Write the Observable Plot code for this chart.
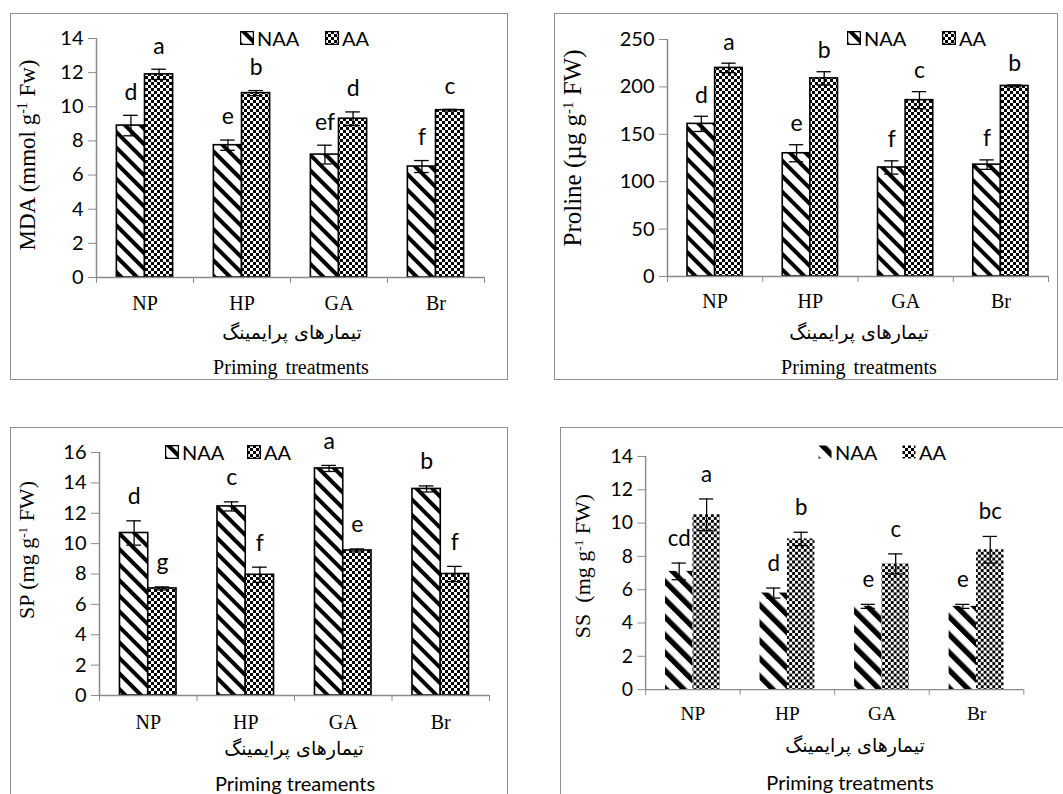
<!DOCTYPE html>
<html><head><meta charset="utf-8">
<script src="https://cdn.jsdelivr.net/npm/d3@7"></script>
<script src="https://cdn.jsdelivr.net/npm/@observablehq/plot@0.6"></script>
<style>
body{margin:0;background:#fff;width:1063px;height:794px;overflow:hidden;position:relative;font-family:Lato,"Open Sans",sans-serif;color:#000}
.frame{position:absolute;border:1px solid #8e8e8e;box-sizing:border-box}
.plot{position:absolute}
.plot svg{overflow:visible}
.ylab{position:absolute;font-family:"Liberation Serif","Times New Roman",serif;white-space:nowrap;transform:translate(-50%,-50%) rotate(-90deg);}
.ylab sup{font-size:0.6em;vertical-align:0.55em;line-height:0}
.xlab{position:absolute;white-space:nowrap;transform:translate(-50%,-50%)}
.fa{font-family:"DejaVu Sans",sans-serif;font-size:19px}
.en{font-family:"Liberation Serif",serif;font-size:20px;word-spacing:3px}
.ensans{font-family:Lato,sans-serif;font-size:20px}
.leg{position:absolute;display:flex;align-items:center;font-size:20px;transform:translateY(-50%)}
.leg svg{display:block}
</style></head><body>
<svg width="0" height="0" style="position:absolute">
<defs>
<pattern id="stripe" width="11" height="11" patternUnits="userSpaceOnUse" patternTransform="rotate(-45)">
<rect width="11" height="11" fill="#fff"/><rect width="4" height="11" fill="#000"/></pattern>
<pattern id="stripe2" width="13" height="13" patternUnits="userSpaceOnUse" patternTransform="rotate(-45)">
<rect width="13" height="13" fill="#fff"/><rect width="5.5" height="13" fill="#000"/></pattern>
<pattern id="check" width="6" height="6" patternUnits="userSpaceOnUse">
<rect width="6" height="6" fill="#fff"/><rect width="3" height="3" fill="#000"/><rect x="3" y="3" width="3" height="3" fill="#000"/></pattern>
</defs></svg>
<script>
// ---- data ----
const categories = ["NP", "HP", "GA", "Br"];
const seriesNames = ["NAA", "AA"];

const mdaNAA = [8.9, 7.75, 7.2, 6.5];
const mdaNAAerr = [0.6, 0.3, 0.55, 0.35];
const mdaAA = [11.9, 10.8, 9.3, 9.8];
const mdaAAerr = [0.3, 0.15, 0.4, 0.05];
const mdaNAAletters = ["d", "e", "ef", "f"];
const mdaAAletters = ["a", "b", "d", "c"];

const proNAA = [161, 130, 115, 118];
const proNAAerr = [8, 9, 7, 5];
const proAA = [220, 209, 186, 201];
const proAAerr = [5, 7, 9, 1];
const proNAAletters = ["d", "e", "f", "f"];
const proAAletters = ["a", "b", "c", "b"];

const spNAA = [10.7, 12.45, 14.95, 13.6];
const spNAAerr = [0.8, 0.3, 0.2, 0.2];
const spAA = [7.05, 7.95, 9.55, 8.0];
const spAAerr = [0.1, 0.5, 0.1, 0.5];
const spNAAletters = ["d", "c", "a", "b"];
const spAAletters = ["g", "f", "e", "f"];

const ssNAA = [7.1, 5.8, 5.0, 5.0];
const ssNAAerr = [0.5, 0.3, 0.12, 0.12];
const ssAA = [10.5, 9.05, 7.55, 8.4];
const ssAAerr = [0.95, 0.4, 0.6, 0.8];
const ssNAAletters = ["cd", "d", "e", "e"];
const ssAAletters = ["a", "b", "c", "bc"];

const yTitles = ["MDA (mmol g<sup>-1</sup> Fw)", "Proline (µg g<sup>-1</sup> FW)", "SP (mg g<sup>-1</sup> FW)", "SS&nbsp; (mg g<sup>-1</sup> FW)"];
const xTitleFa = "تیمارهای پرایمینگ";
const xTitlesEn = ["Priming treatments", "Priming treatments", "Priming treaments", "Priming treatments"];

// ---- layout ----
const panels = [
  {naa: mdaNAA, naaErr: mdaNAAerr, aa: mdaAA, aaErr: mdaAAerr, naaLet: mdaNAAletters, aaLet: mdaAAletters,
   ymax: 14, ystep: 2, frame: [10, 13, 498, 367], m: [25, 24, 103, 86], outline: true, stripe: "stripe",
   ytitle: [28, 155, 23], xfa: [292, 332], xen: [291, 367, "en"], legend: [240, 325, 38], dyLet: 23, catPad: 18},
  {naa: proNAA, naaErr: proNAAerr, aa: proAA, aaErr: proAAerr, naaLet: proNAAletters, aaLet: proAAletters,
   ymax: 250, ystep: 50, frame: [554, 13, 504, 367], m: [26, 10, 104, 113], outline: true, stripe: "stripe",
   ytitle: [573, 148, 25], xfa: [859, 332], xen: [859, 367, "en"], legend: [847, 942, 38], dyLet: 21, catPad: 17},
  {naa: spNAA, naaErr: spNAAerr, aa: spAA, aaErr: spAAerr, naaLet: spNAAletters, aaLet: spAAletters,
   ymax: 16, ystep: 2, frame: [10, 427, 498, 380], m: [25, 19, 112, 89], outline: true, stripe: "stripe",
   ytitle: [27, 550, 22], xfa: [294, 748], xen: [295, 783, "ensans"], legend: [165, 247, 452], dyLet: 24, catPad: 19},
  {naa: ssNAA, naaErr: ssNAAerr, aa: ssAA, aaErr: ssAAerr, naaLet: ssNAAletters, aaLet: ssAAletters,
   ymax: 14, ystep: 2, frame: [560, 427, 520, 380], m: [30, 41, 109, 88], outline: false, stripe: "stripe2",
   ytitle: [583, 566, 22], xfa: [855, 745], xen: [850, 782, "ensans"], legend: [818, 902, 452], dyLet: 25, catPad: 17}
];

const barFrac = 0.29;
const capHalf = 0.075;

function el(tag, cls, html, style) {
  const e = document.createElement(tag);
  if (cls) e.className = cls;
  if (html != null) e.innerHTML = html;
  Object.assign(e.style, style || {});
  document.body.appendChild(e);
  return e;
}

function swatch(fill, outline) {
  return `<svg width="14" height="14"><rect x="0.5" y="0.5" width="13" height="13" fill="${fill}" stroke="${outline ? "#000" : "none"}" stroke-width="1.5"/></svg>`;
}

panels.forEach((p, k) => {
  const [fx, fy, fw, fh] = p.frame;
  const [mt, mr, mb, ml] = p.m;
  el("div", "frame", null, {left: fx + "px", top: fy + "px", width: fw + "px", height: fh + "px"});

  const rows = [];
  categories.forEach((c, i) => {
    rows.push({cat: c, i, s: "NAA", v: p.naa[i], e: p.naaErr[i], l: p.naaLet[i]});
    rows.push({cat: c, i, s: "AA", v: p.aa[i], e: p.aaErr[i], l: p.aaLet[i]});
  });
  const x1 = d => d.i + 0.5 + (d.s === "NAA" ? -barFrac : 0);
  const x2 = d => x1(d) + barFrac;
  const xc = d => x1(d) + barFrac / 2;
  const naaRows = rows.filter(d => d.s === "NAA");
  const aaRows = rows.filter(d => d.s === "AA");
  const barStroke = p.outline ? {stroke: "#000", strokeWidth: 1.6} : {};

  const chart = Plot.plot({
    width: fw, height: fh,
    marginTop: mt, marginRight: mr, marginBottom: mb, marginLeft: ml,
    x: {type: "linear", domain: [0, categories.length]},
    y: {domain: [0, p.ymax]},
    style: {fontFamily: "Lato, sans-serif", background: "transparent", overflow: "visible"},
    marks: [
      Plot.rectY(naaRows, {x1, x2, y1: 0, y2: "v", fill: `url(#${p.stripe})`, ...barStroke}),
      Plot.rectY(aaRows, {x1, x2, y1: 0, y2: "v", fill: "url(#check)", ...barStroke}),
      Plot.ruleX(rows, {x: xc, y1: d => d.v - d.e, y2: d => d.v + d.e, stroke: "#000", strokeWidth: 1.3}),
      Plot.ruleY(rows, {y: d => d.v + d.e, x1: d => xc(d) - capHalf, x2: d => xc(d) + capHalf, stroke: "#000", strokeWidth: 1.3}),
      Plot.ruleY(rows, {y: d => d.v - d.e, x1: d => xc(d) - capHalf, x2: d => xc(d) + capHalf, stroke: "#000", strokeWidth: 1.3}),
      Plot.text(rows, {x: xc, y: d => d.v + d.e, text: "l", dy: -p.dyLet, fontSize: 23, fill: "#000"}),
      Plot.ruleY([0], {stroke: "#8a8a8a", strokeWidth: 1.5}),
      Plot.ruleX([0], {stroke: "#8a8a8a", strokeWidth: 1.5}),
      Plot.axisY({ticks: d3.range(0, p.ymax + p.ystep / 2, p.ystep), tickSize: 8, tickPadding: 5, stroke: "#8a8a8a", fontSize: 20, label: null, tickFormat: d3.format("d")}),
      Plot.axisX({ticks: d3.range(0, categories.length + 1), tickSize: 6, tickFormat: () => "", stroke: "#8a8a8a", label: null}),
      Plot.axisX({ticks: categories.map((c, i) => i + 0.5), tickSize: 0, tickPadding: p.catPad, tickFormat: d => categories[Math.floor(d)], fontSize: 20, fontFamily: "Liberation Serif, serif", label: null})
    ]
  });
  const holder = el("div", "plot", null, {left: fx + "px", top: fy + "px"});
  holder.appendChild(chart);

  // y title
  el("div", "ylab", yTitles[k], {left: p.ytitle[0] + "px", top: p.ytitle[1] + "px", fontSize: p.ytitle[2] + "px"});
  // x titles
  const fa = el("div", "xlab fa", xTitleFa, {left: p.xfa[0] + "px", top: p.xfa[1] + "px"});
  fa.dir = "rtl";
  el("div", "xlab " + p.xen[2], xTitlesEn[k], {left: p.xen[0] + "px", top: p.xen[1] + "px"});
  // legend
  const [lx1, lx2, ly] = p.legend;
  el("div", "leg", swatch(`url(#${p.stripe})`, p.outline) + `<span style="margin-left:3px">${seriesNames[0]}</span>`, {left: lx1 + "px", top: ly + "px"});
  el("div", "leg", swatch("url(#check)", p.outline) + `<span style="margin-left:3px">${seriesNames[1]}</span>`, {left: lx2 + "px", top: ly + "px"});
});
</script>
</body></html>
